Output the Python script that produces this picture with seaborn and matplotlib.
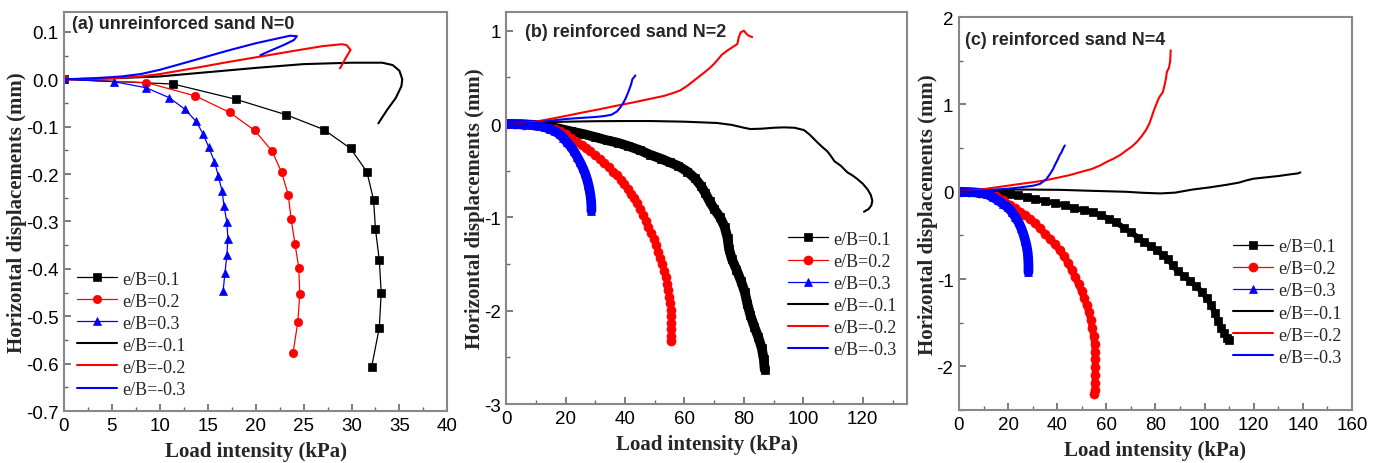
import seaborn as sns
import matplotlib.pyplot as plt
from matplotlib.ticker import MultipleLocator

# legend labels for the six cases
labels = ["e/B=0.1", "e/B=0.2", "e/B=0.3", "e/B=-0.1", "e/B=-0.2", "e/B=-0.3"]

# ---- (a) unreinforced sand N=0 ----
a_load_p1 = [0, 11.4, 17.9, 23.2, 27.1, 29.9, 31.6, 32.3, 32.5, 32.9, 33.1, 32.9, 32.1]
a_disp_p1 = [0, -0.010, -0.042, -0.075, -0.106, -0.146, -0.195, -0.254, -0.316, -0.382, -0.450, -0.524, -0.607]
a_load_p2 = [0, 8.6, 13.7, 17.3, 19.9, 21.7, 22.7, 23.4, 23.7, 24.1, 24.5, 24.6, 24.4, 23.9]
a_disp_p2 = [0, -0.007, -0.035, -0.070, -0.108, -0.151, -0.196, -0.244, -0.295, -0.347, -0.398, -0.453, -0.512, -0.577]
a_load_p3 = [0, 5.2, 8.6, 11.0, 12.6, 13.8, 14.5, 15.1, 15.7, 16.1, 16.5, 16.7, 17.0, 17.1, 17.0, 16.8, 16.6]
a_disp_p3 = [0, -0.005, -0.018, -0.039, -0.063, -0.089, -0.115, -0.143, -0.174, -0.204, -0.236, -0.268, -0.302,
             -0.336, -0.370, -0.408, -0.447]
a_load_m1 = [0, 5, 10, 15, 20, 25, 30, 33.2, 34.3, 35.0, 35.3, 35.2, 34.6, 33.7, 32.8]
a_disp_m1 = [0, 0.002, 0.006, 0.015, 0.024, 0.032, 0.035, 0.035, 0.030, 0.018, 0.0, -0.015, -0.040, -0.065, -0.093]
a_load_m2 = [0, 5, 8, 10, 14, 17, 20.5, 24, 27, 29, 29.5, 29.9, 29.4, 28.8]
a_disp_m2 = [0, 0.002, 0.006, 0.011, 0.025, 0.036, 0.048, 0.060, 0.070, 0.074, 0.072, 0.062, 0.045, 0.023]
a_load_m3 = [0, 3, 6, 8, 10, 13, 17, 20, 23.6, 24.3, 24.0, 23.0, 21.5, 20.5]
a_disp_m3 = [0, 0.002, 0.006, 0.011, 0.020, 0.037, 0.060, 0.076, 0.092, 0.091, 0.083, 0.073, 0.060, 0.051]

# ---- (b) reinforced sand N=2 ----
b_load_p1 = [0, 5, 10, 14, 18, 22, 26, 30, 34, 37.5, 41, 45, 48.5, 52, 55, 58, 61, 63.5, 65.5, 67, 68.5, 70,
             72, 73.5, 74.5, 75, 76, 77.5, 79, 80.3, 81.2, 82.2, 83.5, 84.8, 86, 86.7, 87]
b_disp_p1 = [0, -0.002, -0.01, -0.025, -0.05, -0.08, -0.107, -0.14, -0.175, -0.2, -0.235, -0.28, -0.33, -0.37,
             -0.41, -0.45, -0.51, -0.58, -0.66, -0.74, -0.83, -0.91, -1.0, -1.1, -1.22, -1.34, -1.45, -1.56,
             -1.68, -1.8, -1.93, -2.05, -2.17, -2.28, -2.4, -2.52, -2.63]
b_load_p2 = [0, 3, 6, 9, 12, 14.5, 16.5, 18.2, 20, 22, 23.8, 25.5, 27, 28.3, 30, 31.5, 33, 34.5, 36, 37.3, 38.5,
             39.8, 41, 42, 43, 44, 45, 46.1, 47, 47.9, 48.8, 49.6, 50.4, 51.1, 51.8, 52.5, 53.1, 53.7, 54.2,
             54.6, 54.9, 55.2, 55.4, 55.5, 55.5, 55.5, 55.5, 55.4]
b_disp_p2 = [0, -0.002, -0.006, -0.013, -0.026, -0.04, -0.055, -0.07, -0.11, -0.155, -0.196, -0.23, -0.26,
             -0.286, -0.33, -0.38, -0.42, -0.465, -0.51, -0.55, -0.595, -0.645, -0.7, -0.745, -0.79, -0.85,
             -0.91, -0.97, -1.04, -1.1, -1.17, -1.23, -1.3, -1.37, -1.43, -1.5, -1.57, -1.64, -1.71, -1.78,
             -1.85, -1.92, -1.99, -2.06, -2.13, -2.2, -2.27, -2.32]
b_load_p3 = [0, 3, 6, 9, 11, 13, 14.8, 16.5, 18, 19.3, 20.5, 21.7, 22.8, 23.9, 24.9, 25.8, 26.6, 27.2, 27.7,
             28.1, 28.4, 28.6, 28.7, 28.7]
b_disp_p3 = [0, -0.002, -0.005, -0.012, -0.02, -0.035, -0.054, -0.08, -0.11, -0.15, -0.196, -0.24, -0.29,
             -0.35, -0.41, -0.47, -0.53, -0.59, -0.65, -0.71, -0.77, -0.83, -0.88, -0.93]
b_load_m1 = [0, 5, 10, 20, 30, 40, 48.5, 60, 71, 76, 80, 82.2, 86, 90, 93.5, 97, 100.2, 102, 104.7, 106.5,
             108, 109.2, 110.5, 112.6, 114.8, 116.5, 118.2, 120, 121.6, 122.7, 123.2, 122.9, 122, 120.4]
b_disp_m1 = [0, 0.005, 0.015, 0.025, 0.03, 0.032, 0.032, 0.025, 0.011, -0.01, -0.04, -0.054, -0.05, -0.04,
             -0.036, -0.04, -0.065, -0.11, -0.196, -0.25, -0.29, -0.34, -0.4, -0.447, -0.518, -0.55, -0.59,
             -0.64, -0.70, -0.76, -0.82, -0.87, -0.91, -0.94]
b_load_m2 = [0, 5, 10, 15, 20.5, 26, 31.7, 37, 42.9, 48.5, 53, 56, 58.6, 61, 63, 65.4, 67, 68.5, 69.9, 71.5,
             72.5, 74.4, 76, 77.8, 78.2, 78.9, 80.0, 81, 81.7, 82.8]
b_disp_m2 = [0, 0.005, 0.025, 0.055, 0.089, 0.125, 0.16, 0.195, 0.232, 0.27, 0.3, 0.33, 0.36, 0.41, 0.46,
             0.52, 0.56, 0.6, 0.643, 0.7, 0.74, 0.786, 0.82, 0.857, 0.92, 0.982, 1.0, 0.96, 0.946, 0.93]
b_load_m3 = [0, 5, 10, 15, 20.5, 25, 30, 33, 35.5, 37.3, 38.5, 39.5, 40.3, 41.2, 42, 42.5, 43.5]
b_disp_m3 = [0, 0.005, 0.015, 0.035, 0.055, 0.065, 0.075, 0.085, 0.1, 0.135, 0.18, 0.23, 0.28, 0.35, 0.42,
             0.48, 0.52]

# ---- (c) reinforced sand N=4 ----
c_load_p1 = [0, 5, 10, 15, 18, 20.8, 24, 27.6, 31, 35, 39, 43, 47, 51, 54.7, 58, 61, 64, 67, 70, 73, 75.5,
             78, 80.5, 83, 85, 87, 89, 91.5, 94, 96.5, 99, 101, 102.7, 104.2, 105.5, 106.8, 108, 109.3, 110]
c_disp_p1 = [0, -0.003, -0.008, -0.012, -0.018, -0.024, -0.04, -0.064, -0.085, -0.105, -0.13, -0.155, -0.19,
             -0.21, -0.236, -0.27, -0.31, -0.35, -0.41, -0.465, -0.525, -0.58, -0.625, -0.67, -0.72, -0.77,
             -0.84, -0.91, -0.96, -1.02, -1.08, -1.15, -1.22, -1.3, -1.39, -1.48, -1.56, -1.62, -1.67, -1.70]
c_load_p2 = [0, 4, 8, 12, 15, 18, 20.8, 23, 25, 27, 29, 31, 33, 35, 37, 39, 41, 42.8, 44.5, 46, 47.4, 48.7,
             49.9, 51, 52, 52.9, 53.7, 54.3, 54.8, 55.2, 55.4, 55.5, 55.5, 55.5, 55.4, 55.3, 55.1]
c_disp_p2 = [0, -0.003, -0.01, -0.025, -0.05, -0.09, -0.15, -0.19, -0.23, -0.27, -0.31, -0.36, -0.42, -0.48,
             -0.54, -0.6, -0.67, -0.74, -0.82, -0.9, -0.98, -1.06, -1.14, -1.22, -1.3, -1.38, -1.47, -1.56,
             -1.65, -1.74, -1.83, -1.92, -2.01, -2.1, -2.19, -2.27, -2.32]
c_load_p3 = [0, 3, 6, 9, 11.5, 14, 16, 18, 20, 21.5, 23, 24.3, 25.4, 26.3, 27, 27.6, 28, 28.2, 28.3, 28.3]
c_disp_p3 = [0, -0.002, -0.006, -0.015, -0.03, -0.064, -0.1, -0.14, -0.18, -0.23, -0.29, -0.35, -0.42, -0.49,
             -0.56, -0.63, -0.7, -0.77, -0.84, -0.92]
c_load_m1 = [0, 5, 10, 20, 30, 41, 55, 68, 75, 82, 88, 95, 102, 109, 114, 117, 120, 125, 130, 135, 138, 139]
c_disp_m1 = [0, 0.005, 0.015, 0.025, 0.025, 0.022, 0.01, 0, -0.012, -0.019, -0.01, 0.025, 0.05, 0.08, 0.105,
             0.13, 0.15, 0.165, 0.18, 0.2, 0.21, 0.222]
c_load_m2 = [0, 5, 10, 15, 20, 25, 30.3, 35, 40, 45, 50, 54, 57.4, 60, 63, 65.6, 68, 70.5, 72.4, 74.5, 76.2,
             77.5, 78.5, 79.2, 80.3, 81.5, 83, 83.7, 84.3, 84.6, 85.5, 86, 86.2]
c_disp_m2 = [0, 0.01, 0.03, 0.05, 0.07, 0.09, 0.11, 0.13, 0.16, 0.19, 0.23, 0.26, 0.3, 0.34, 0.38, 0.42, 0.47,
             0.52, 0.57, 0.64, 0.71, 0.78, 0.86, 0.92, 1.0, 1.08, 1.14, 1.22, 1.3, 1.37, 1.42, 1.5, 1.62]
c_load_m3 = [0, 5, 10, 15, 20, 25, 30.3, 33, 35.6, 37, 38.3, 39.3, 40.3, 41, 41.7, 42.5, 43.1]
c_disp_m3 = [0, 0.005, 0.015, 0.025, 0.035, 0.05, 0.07, 0.09, 0.145, 0.2, 0.26, 0.32, 0.375, 0.42, 0.45, 0.5, 0.53]

colors = ["black", "red", "blue"]
markers = ["s", "o", "^"]

sns.set_style("ticks")
plt.rcParams["font.family"] = ["Liberation Sans", "DejaVu Sans"]
plt.rcParams["axes.unicode_minus"] = False

fig = plt.figure(figsize=(13.79, 4.64), dpi=100)
ax_a = fig.add_axes([0.0464, 0.112, 0.278, 0.860])
ax_b = fig.add_axes([0.367, 0.127, 0.291, 0.845])
ax_c = fig.add_axes([0.6954, 0.114, 0.285, 0.847])


def draw(ax, x, y, color, marker=None, lw=1.4, ms=5, label=None, band=0):
    # thick underlay so densely packed markers read as a solid band
    if band:
        sns.lineplot(x=x, y=y, ax=ax, sort=False, estimator=None, color=color, lw=band,
                     solid_joinstyle="round", solid_capstyle="round")
    sns.lineplot(x=x, y=y, ax=ax, sort=False, estimator=None, color=color, lw=lw,
                 marker=marker, ms=ms, mec=color, mfc=color, mew=0.5, label=label)


def style(ax, title, title_xy, xlim, ylim, xmaj, xmin, ymaj, ymin, leg_xy):
    ax.set_xlim(*xlim)
    ax.set_ylim(*ylim)
    ax.xaxis.set_major_locator(MultipleLocator(xmaj))
    ax.xaxis.set_minor_locator(MultipleLocator(xmin))
    ax.yaxis.set_major_locator(MultipleLocator(ymaj))
    ax.yaxis.set_minor_locator(MultipleLocator(ymin))
    ax.tick_params(which="both", direction="in", bottom=True, left=True, top=False, right=False,
                   labelsize=13.5, colors="#666666", labelcolor="black", pad=4)
    ax.tick_params(which="major", length=5, width=1.2)
    ax.tick_params(which="minor", length=3, width=1.0)
    for sp in ax.spines.values():
        sp.set_color("#888888")
        sp.set_linewidth(1.5)
    ax.set_xlabel("Load intensity (kPa)", family=["Liberation Serif"], weight="bold", size=15, labelpad=5.5)
    ax.set_ylabel("Horizontal displacements (mm)", family=["Liberation Serif"], weight="bold", size=15,
                  labelpad=-1)
    ax.text(title_xy[0], title_xy[1], title, transform=ax.transAxes, ha="left", va="center",
            weight="bold", size=13)
    ax.legend(loc="upper left", bbox_to_anchor=leg_xy, frameon=False, borderaxespad=0,
              prop={"family": "Liberation Serif", "size": 13}, handlelength=2.2, handletextpad=0.3,
              labelspacing=0.28, borderpad=0)


# panel (a)
draw(ax_a, a_load_p1, a_disp_p1, colors[0], markers[0], lw=0.9, ms=5.5, label=labels[0])
draw(ax_a, a_load_p2, a_disp_p2, colors[1], markers[1], lw=0.9, ms=6, label=labels[1])
draw(ax_a, a_load_p3, a_disp_p3, colors[2], markers[2], lw=0.9, ms=6, label=labels[2])
draw(ax_a, a_load_m1, a_disp_m1, colors[0], lw=1.5, label=labels[3])
draw(ax_a, a_load_m2, a_disp_m2, colors[1], lw=1.5, label=labels[4])
draw(ax_a, a_load_m3, a_disp_m3, colors[2], lw=1.5, label=labels[5])
style(ax_a, "(a) unreinforced sand N=0", (0.02, 0.97), (0, 40), (-0.7, 0.142), 5, 2.5, 0.1, 0.05,
      (0.034, 0.352))

# panel (b)
draw(ax_b, b_load_p1, b_disp_p1, colors[0], markers[0], lw=0.9, ms=6, label=labels[0], band=7)
draw(ax_b, b_load_p2, b_disp_p2, colors[1], markers[1], lw=0.9, ms=6.5, label=labels[1])
draw(ax_b, b_load_p3, b_disp_p3, colors[2], markers[2], lw=0.9, ms=6, label=labels[2], band=7)
draw(ax_b, b_load_m1, b_disp_m1, colors[0], lw=1.5, label=labels[3])
draw(ax_b, b_load_m2, b_disp_m2, colors[1], lw=1.5, label=labels[4])
draw(ax_b, b_load_m3, b_disp_m3, colors[2], lw=1.5, label=labels[5])
style(ax_b, "(b) reinforced sand N=2", (0.047, 0.95), (0, 135), (-3, 1.2), 20, 10, 1, 0.5, (0.703, 0.442))

# panel (c)
draw(ax_c, c_load_p1, c_disp_p1, colors[0], markers[0], lw=0.9, ms=5.5, label=labels[0], band=4)
draw(ax_c, c_load_p2, c_disp_p2, colors[1], markers[1], lw=0.9, ms=6.5, label=labels[1], band=5)
draw(ax_c, c_load_p3, c_disp_p3, colors[2], markers[2], lw=0.9, ms=6, label=labels[2], band=7)
draw(ax_c, c_load_m1, c_disp_m1, colors[0], lw=1.5, label=labels[3])
draw(ax_c, c_load_m2, c_disp_m2, colors[1], lw=1.5, label=labels[4])
draw(ax_c, c_load_m3, c_disp_m3, colors[2], lw=1.5, label=labels[5])
style(ax_c, "(c) reinforced sand N=4", (0.015, 0.944), (0, 160), (-2.5, 2), 20, 10, 1, 0.5, (0.697, 0.437))

fig.savefig("out.png", dpi=100)
